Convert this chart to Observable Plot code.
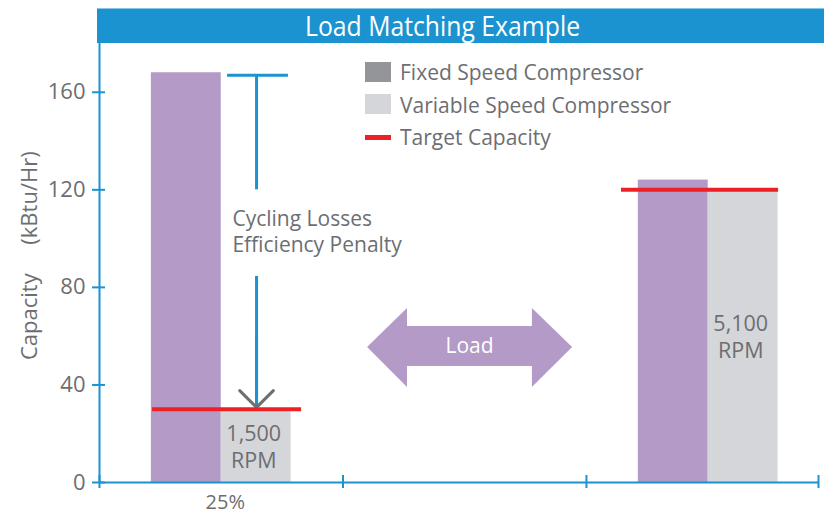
<!DOCTYPE html>
<html>
<head>
<meta charset="utf-8">
<script src="https://cdn.jsdelivr.net/npm/d3@7"></script>
<script src="https://cdn.jsdelivr.net/npm/@observablehq/plot@0.6"></script>
<style>
  body { margin: 0; background: #fff; font-family: "Open Sans", sans-serif; }
  #wrap { position: relative; width: 824px; height: 516px; overflow: hidden; }
  #chart { position: absolute; left: 0; top: 0; }
  #titlebar { position: absolute; left: 97px; top: 8px; width: 727px; height: 35px; background: #1b93d0; border-top: 1px solid #86c8ea; box-sizing: border-box; }
  #title { position: absolute; top: 8px; height: 35px; line-height: 35px; color: #fff; font-size: 28px; white-space: nowrap; transform-origin: center center; }
  .sw { position: absolute; left: 365px; width: 26px; }
  .lt { position: absolute; left: 400px; font-size: 21px; line-height: 21px; color: #6d6e71; white-space: nowrap; }
</style>
</head>
<body>
<div id="wrap">
  <div id="chart"></div>
  <div id="titlebar"></div>
  <div id="title">Load Matching Example</div>
  <div id="legend"></div>
</div>
<script>
// ---- data ----
const loadLabels = ["25%", "", ""];          // x tick labels (band centres)
const groupSlots = [0, 2];                   // which band each bar pair sits in
const fixedCapacity = [168, 124];            // kBtu/Hr, fixed speed compressor
const variableCapacity = [30, 120];          // kBtu/Hr, variable speed compressor
const targetCapacity = [30, 120];            // kBtu/Hr
const variableRpm = [1500, 5100];
const yTicks = [0, 40, 80, 120, 160];
const xAxisEnd = 2.953;
const xBoundaries = [0, 1, 2, xAxisEnd];
const yAxisTitle = "Capacity\u00a0\u00a0\u00a0\u00a0\u00a0(kBtu/Hr)";
const legendItems = ["Fixed Speed Compressor", "Variable Speed Compressor", "Target Capacity"];
const cyclingText = ["Cycling Losses", "Efficiency Penalty"];
const cyclingTop = 167, cyclingGapTop = 120, cyclingGapBottom = 84.5;
// double arrow outline (x in band units, y1/y2 in kBtu/Hr)
const loadArrowX  = [1.101, 1.265, 1.265, 1.778, 1.778, 1.943];
const loadArrowY1 = [55.35, 38.95, 47.6, 47.6, 38.95, 55.35];
const loadArrowY2 = [55.35, 71.3, 64.0, 64.0, 71.3, 55.35];

// ---- styles ----
const PURPLE = "#b39ac7", LIGHT = "#d5d6da", DARK = "#939598", RED = "#ed2024", BLUE = "#1b93d0", TEXT = "#6d6e71";
const BW = 0.287;                                   // bar width in band units
const targetExtent = [[-0.282, 0.33], [-0.356, 0.289]];
const tickX = [-0.0287, 0.0246];                    // y-axis tick reach (band units)
const tickY = [-2.46, 2.87];                        // x-axis tick reach (kBtu/Hr units)

const pairs = groupSlots.map((s, i) => ({
  slot: s, fixed: fixedCapacity[i], variable: variableCapacity[i],
  target: targetCapacity[i], rpm: variableRpm[i], ext: targetExtent[i]
}));
const loadArrow = loadArrowX.map((x, i) => ({x, y1: loadArrowY1[i], y2: loadArrowY2[i]}));
const xLabels = loadLabels.map((label, i) => ({label, pos: i + 0.5}));
const arrowX = 0.645;

const chart = Plot.plot({
  width: 824, height: 516,
  marginTop: 43, marginBottom: 34, marginLeft: 99, marginRight: 6,
  x: {domain: [0, xAxisEnd], axis: null},
  y: {domain: [0, 180], axis: null},
  style: {fontFamily: "'Open Sans', sans-serif", color: TEXT, background: "transparent", overflow: "visible"},
  marks: [
    Plot.rectY(pairs, {x1: d => d.slot + 0.5 - BW, x2: d => d.slot + 0.5, y1: 0, y2: "fixed", fill: PURPLE}),
    Plot.rectY(pairs, {x1: d => d.slot + 0.5, x2: d => d.slot + 0.5 + BW, y1: 0, y2: "variable", fill: LIGHT}),
    Plot.text(pairs, {x: d => d.slot + 0.5 + BW / 2 - 0.01, y: d => d.variable / 2,
      text: d => d3.format(",")(d.rpm) + "\nRPM", fontSize: 21.5, fill: TEXT, lineHeight: 1.26}),
    // cycling losses annotation (arrowhead under the blue line)
    Plot.arrow([0], {x1: arrowX, x2: arrowX, y1: targetCapacity[0] + 30, y2: targetCapacity[0] + 0.8, stroke: TEXT, strokeWidth: 3, headLength: 14, headAngle: 90}),
    Plot.ruleY([cyclingTop], {x1: 0.526, x2: 0.776, stroke: BLUE, strokeWidth: 3}),
    Plot.ruleX([arrowX], {y1: cyclingTop, y2: cyclingGapTop, stroke: BLUE, strokeWidth: 3}),
    Plot.ruleX([arrowX], {y1: cyclingGapBottom, y2: targetCapacity[0] + 2, stroke: BLUE, strokeWidth: 3}),
    Plot.text([cyclingText.join("\n")], {x: 0.546, y: 112.6, textAnchor: "start", lineAnchor: "top", fontSize: 21, lineHeight: 1.22, fill: TEXT}),
    Plot.ruleY(pairs, {y: "target", x1: d => d.slot + 0.5 + d.ext[0], x2: d => d.slot + 0.5 + d.ext[1], stroke: RED, strokeWidth: 4}),
    // axes
    Plot.ruleX([0], {stroke: BLUE, strokeWidth: 2}),
    Plot.ruleY([0], {stroke: BLUE, strokeWidth: 2}),
    Plot.ruleY(yTicks, {y: d => d, x1: tickX[0], x2: tickX[1], stroke: BLUE, strokeWidth: 2}),
    Plot.text(yTicks, {y: d => d, frameAnchor: "left", dx: -14, textAnchor: "end", fontSize: 22, fill: TEXT}),
    Plot.ruleX(xBoundaries, {x: d => d, y1: tickY[0], y2: tickY[1], stroke: BLUE, strokeWidth: 2}),
    Plot.text(xLabels, {x: "pos", text: "label", frameAnchor: "bottom", dx: 4, dy: 12, lineAnchor: "top", fontSize: 20, fill: TEXT}),
    Plot.text([yAxisTitle], {x: -0.2875, y: 93, rotate: -90, fontSize: 22, fill: TEXT}),
    // load double arrow
    Plot.areaY(loadArrow, {x: "x", y1: "y1", y2: "y2", fill: PURPLE, curve: "linear"}),
    Plot.text(["Load"], {x: 1.52, y: 56, fontSize: 21, fill: "#fff"})
  ]
});
document.getElementById("chart").appendChild(chart);

// title: fit condensed look to reference width
const title = document.getElementById("title");
const w = title.getBoundingClientRect().width;
title.style.left = (443 - w / 2) + "px";
title.style.transform = `scaleX(${275 / w})`;

// legend
const legend = document.getElementById("legend");
const swatches = [
  {top: 62, height: 20, color: DARK},
  {top: 94, height: 20, color: LIGHT},
  {top: 135, height: 5, color: RED}
];
const textTops = [61.5, 94.5, 126.5];
legendItems.forEach((label, i) => {
  const s = document.createElement("div");
  s.className = "sw";
  s.style.top = swatches[i].top + "px";
  s.style.height = swatches[i].height + "px";
  s.style.background = swatches[i].color;
  legend.appendChild(s);
  const t = document.createElement("div");
  t.className = "lt";
  t.style.top = textTops[i] + "px";
  t.textContent = label;
  legend.appendChild(t);
});
</script>
</body>
</html>
